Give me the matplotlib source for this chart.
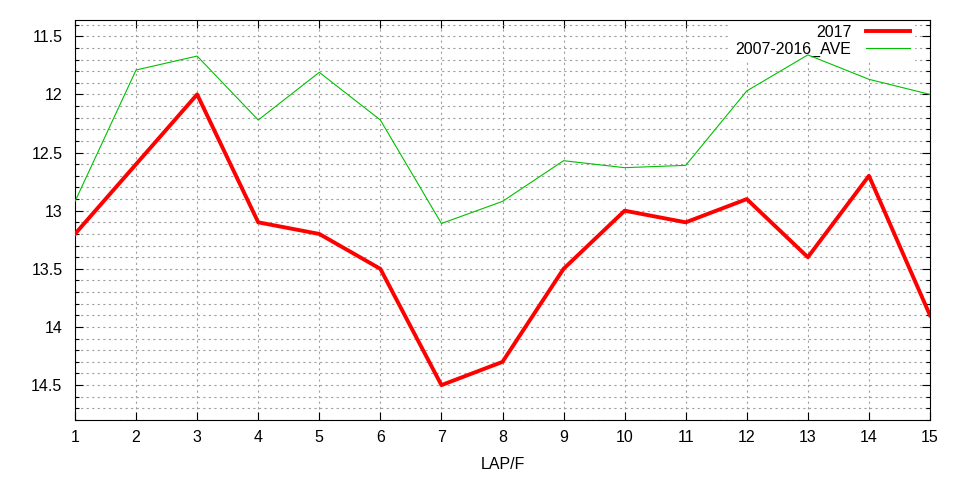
import matplotlib

matplotlib.use("Agg")
import matplotlib.pyplot as plt
import matplotlib.ticker as mticker

LAPS = list(range(1, 16))
TIMES_2017 = [13.2, 12.6, 12.0, 13.1, 13.2, 13.5, 14.5, 14.3, 13.5, 13.0, 13.1, 12.9, 13.4, 12.7, 13.9]
TIMES_AVE = [12.92, 11.79, 11.67, 12.22, 11.81, 12.22, 13.11, 12.92, 12.57, 12.63, 12.61, 11.97, 11.66, 11.87, 12.0]

plt.rcParams["font.family"] = ["Liberation Sans", "DejaVu Sans"]
FS = 11.5

fig = plt.figure(figsize=(9.6, 4.8), dpi=100)
ax = fig.add_axes([75 / 960, 60 / 480, 855 / 960, 400 / 480])

ax.plot(LAPS, TIMES_2017, color="#FF0000", linewidth=2.8, label="2017", zorder=3)
ax.plot(LAPS, TIMES_AVE, color="#00C000", linewidth=0.8, label="2007-2016_AVE", zorder=3)

ax.set_xlim(1, 15)
ax.set_ylim(14.8, 11.36)
ax.xaxis.set_major_locator(mticker.MultipleLocator(1))
ax.yaxis.set_major_locator(mticker.MultipleLocator(0.5))
ax.yaxis.set_minor_locator(mticker.MultipleLocator(0.1))
ax.yaxis.set_major_formatter(mticker.FuncFormatter(lambda v, p: f"{v:g}"))

ax.grid(True, which="major", axis="x", color="#a0a0a0", linestyle=(0, (2, 3)), linewidth=0.8, zorder=0)
ax.grid(True, which="both", axis="y", color="#a0a0a0", linestyle=(0, (2, 3)), linewidth=0.8, zorder=0)
ax.set_axisbelow(True)

ax.tick_params(which="both", direction="in", top=True, right=True, labelsize=FS, color="black")
ax.tick_params(which="major", length=6, width=0.8)
ax.tick_params(which="minor", length=3, width=0.8)
ax.tick_params(axis="x", pad=7)
ax.tick_params(axis="y", pad=9)
for s in ax.spines.values():
    s.set_linewidth(0.8)

ax.set_xlabel("LAP/F", fontsize=FS, labelpad=9)

leg = ax.legend(loc="upper right", bbox_to_anchor=(0.9825, 1.0), borderaxespad=0, frameon=True,
                markerfirst=False, fontsize=FS, handlelength=2.8, handletextpad=0.9,
                labelspacing=0.1, borderpad=0.3, fancybox=False)
leg.get_frame().set_edgecolor("none")
leg.get_frame().set_facecolor("white")
leg.get_frame().set_alpha(1.0)
leg.set_zorder(2)

fig.savefig("out.png", dpi=100)
